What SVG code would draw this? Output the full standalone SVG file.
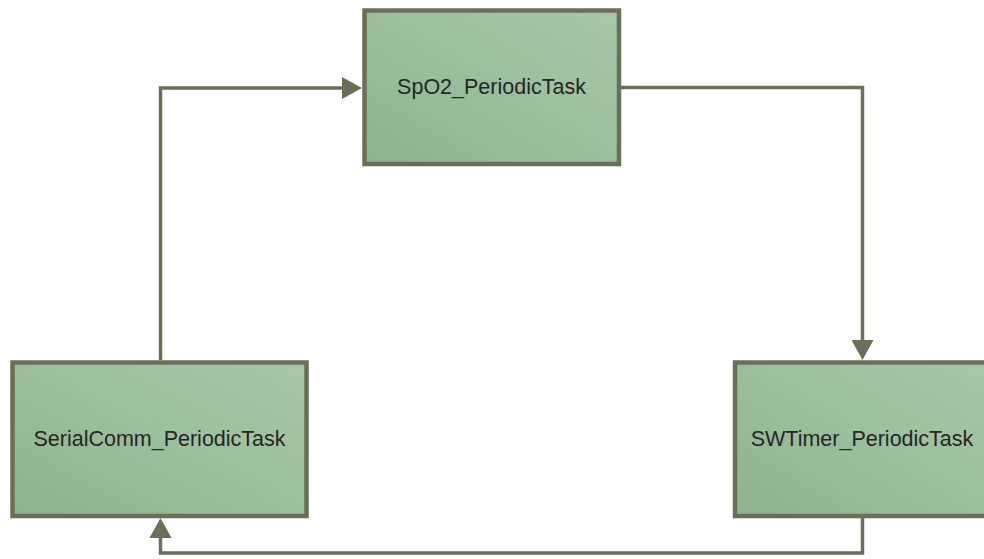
<svg xmlns="http://www.w3.org/2000/svg" width="984" height="559" viewBox="0 0 984 559">
  <defs>
    <linearGradient id="boxFill" x1="0" y1="1" x2="1" y2="0">
      <stop offset="0" stop-color="#8db48e"/>
      <stop offset="1" stop-color="#a9c9aa"/>
    </linearGradient>
    <marker id="arrow" markerUnits="userSpaceOnUse" markerWidth="20" markerHeight="22" viewBox="0 0 20 22" refX="0" refY="11" orient="auto">
      <path d="M0,0 L20,11 L0,22 z" fill="#6b6f58"/>
    </marker>
  </defs>
  <style>
    .box { fill: url(#boxFill); stroke: #6b6f58; stroke-width: 4.5; }
    .label { font-family: "Liberation Sans", Arial, sans-serif; font-size: 21.5px; fill: #262626; text-anchor: middle; }
    .conn { fill: none; stroke: #6b6f58; stroke-width: 3.5; marker-end: url(#arrow); }
  </style>
  <rect width="984" height="559" fill="#ffffff"/>
  <g id="connectors">
    <path class="conn" d="M621,87.5 H862.5 V340"/>
    <path class="conn" d="M862.5,518 V553 H160.5 V538"/>
    <path class="conn" d="M160.5,360 V88 H342"/>
  </g>
  <g id="spo2">
    <rect class="box" x="364.5" y="10.5" width="254.5" height="153.5"/>
    <text class="label" x="491.5" y="94">SpO2_PeriodicTask</text>
  </g>
  <g id="serialcomm">
    <rect class="box" x="12.5" y="362.5" width="294" height="153.5"/>
    <text class="label" x="159.5" y="446">SerialComm_PeriodicTask</text>
  </g>
  <g id="swtimer">
    <rect class="box" x="735" y="362.5" width="254" height="153.5"/>
    <text class="label" x="862" y="446">SWTimer_PeriodicTask</text>
  </g>
</svg>
